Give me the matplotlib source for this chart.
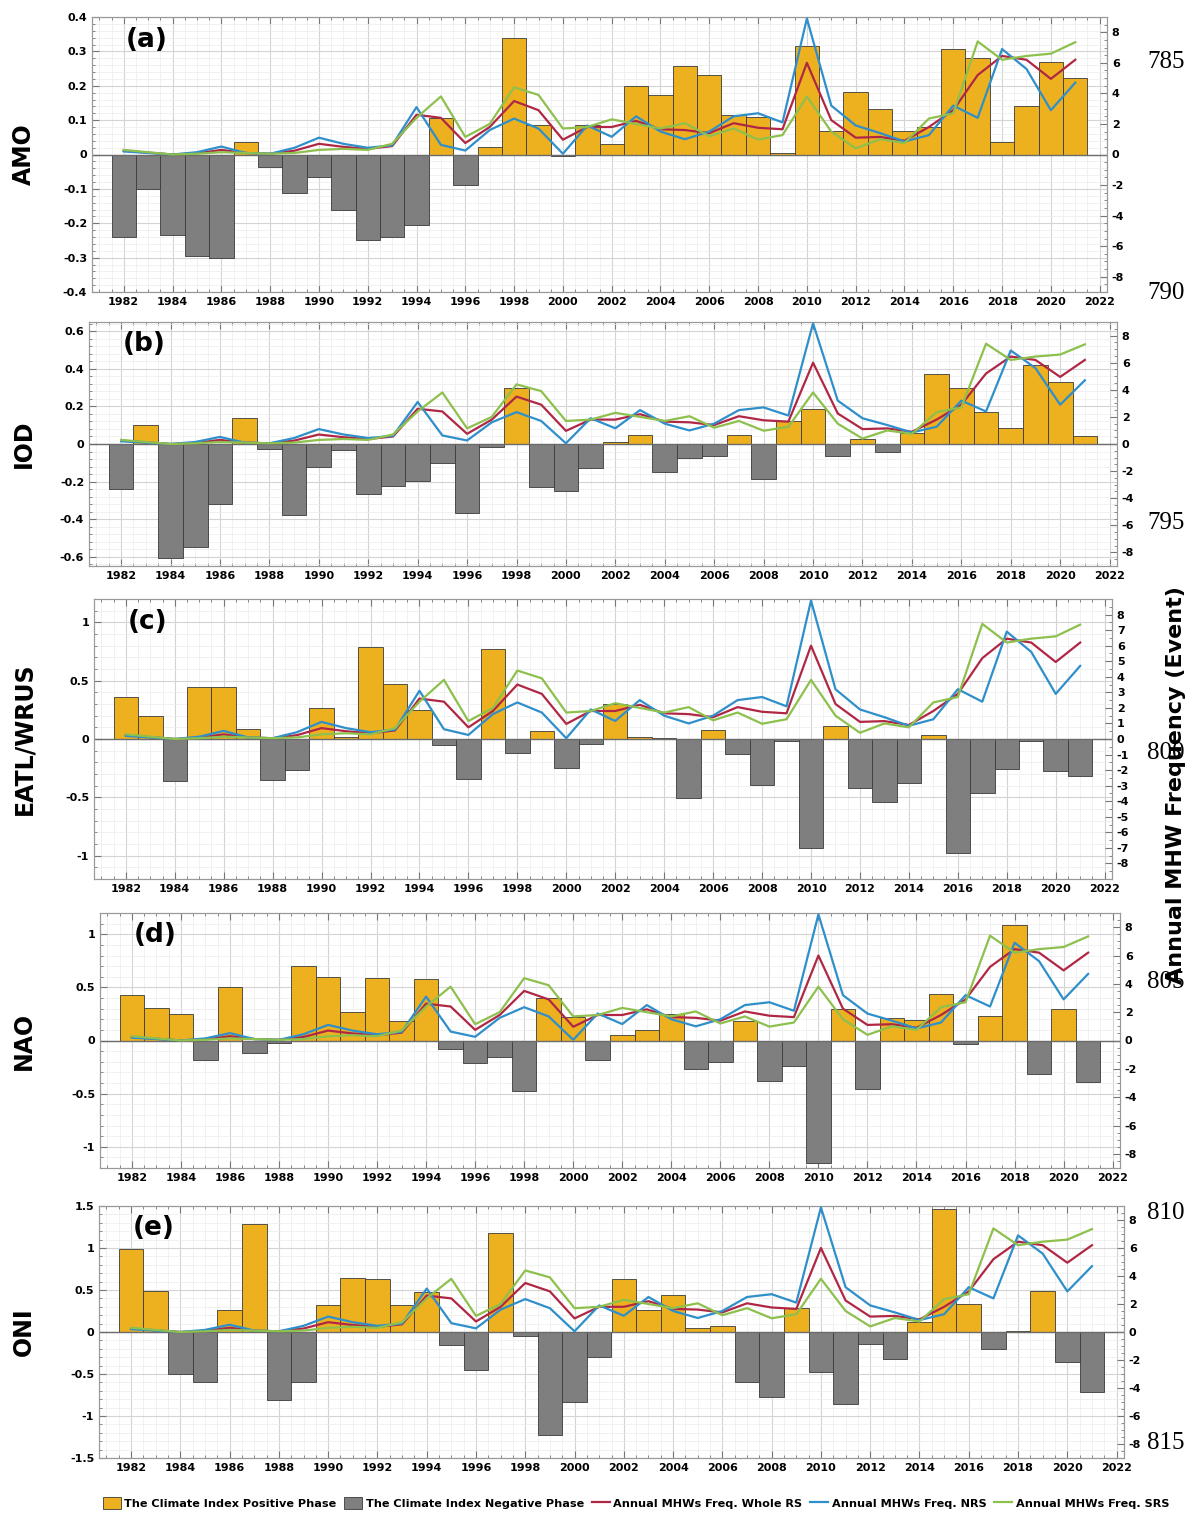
import matplotlib.pyplot as plt
import numpy as np
from matplotlib.ticker import MultipleLocator, AutoMinorLocator, FuncFormatter
from matplotlib.patches import Patch
from matplotlib.lines import Line2D

plt.rcParams['font.family'] = ['DejaVu Sans']
plt.rcParams['font.weight'] = 'bold'
plt.rcParams['axes.unicode_minus'] = False

years = np.arange(1982, 2022)

# climate index values per year (left axis)
amo = [-0.24, -0.10, -0.235, -0.295, -0.30, 0.037, -0.035, -0.112, -0.065, -0.16,
       -0.248, -0.24, -0.205, 0.105, -0.088, 0.022, 0.34, 0.085, -0.003, 0.087,
       0.032, 0.199, 0.173, 0.258, 0.232, 0.115, 0.108, 0.005, 0.317, 0.068,
       0.182, 0.133, 0.068, 0.08, 0.308, 0.282, 0.035, 0.14, 0.269, 0.224]
iod = [-0.238, 0.10, -0.61, -0.55, -0.318, 0.138, -0.027, -0.38, -0.12, -0.032,
       -0.265, -0.226, -0.196, -0.102, -0.37, -0.018, 0.30, -0.231, -0.249, -0.126,
       0.009, 0.046, -0.148, -0.076, -0.062, 0.049, -0.185, 0.124, 0.189, -0.064,
       0.025, -0.041, 0.056, 0.371, 0.30, 0.168, 0.087, 0.42, 0.33, 0.042]
eatl = [0.36, 0.20, -0.363, 0.443, 0.443, 0.086, -0.35, -0.266, 0.27, 0.02,
        0.786, 0.47, 0.245, -0.049, -0.343, 0.77, -0.117, 0.071, -0.25, -0.043,
        0.303, 0.02, 0.01, -0.504, 0.079, -0.127, -0.39, -0.02, -0.934, 0.108,
        -0.416, -0.538, -0.374, 0.037, -0.98, -0.459, -0.255, -0.02, -0.277, -0.32]
nao = [0.43, 0.31, 0.253, -0.18, 0.503, -0.12, -0.02, 0.70, 0.597, 0.266,
       0.588, 0.18, 0.58, -0.078, -0.21, -0.156, -0.475, 0.40, 0.225, -0.179,
       0.053, 0.10, 0.25, -0.267, -0.204, 0.179, -0.38, -0.241, -1.15, 0.298,
       -0.455, 0.213, 0.194, 0.439, -0.03, 0.235, 1.088, -0.317, 0.298, -0.392]
oni = [0.99, 0.486, -0.50, -0.593, 0.26, 1.29, -0.806, -0.593, 0.32, 0.648,
       0.636, 0.32, 0.478, -0.158, -0.455, 1.18, -0.047, -1.225, -0.83, -0.30,
       0.635, 0.257, 0.446, 0.051, 0.071, -0.60, -0.777, 0.284, -0.473, -0.856,
       -0.146, -0.316, 0.118, 1.47, 0.335, -0.197, 0.012, 0.493, -0.363, -0.718]

# annual MHW frequency (right axis, events)
mhw_whole = [0.25, 0.12, 0.0, 0.08, 0.3, 0.1, 0.05, 0.25, 0.7, 0.5,
             0.37, 0.55, 2.6, 2.4, 0.75, 1.8, 3.5, 2.9, 0.97, 1.8,
             1.8, 2.2, 1.65, 1.6, 1.4, 2.05, 1.75, 1.65, 6.0, 2.25,
             1.1, 1.15, 0.9, 1.8, 2.9, 5.2, 6.45, 6.2, 4.95, 6.2]
mhw_nrs = [0.2, 0.1, 0.0, 0.15, 0.52, 0.1, 0.05, 0.44, 1.1, 0.7,
           0.44, 0.6, 3.1, 0.63, 0.26, 1.6, 2.35, 1.7, 0.05, 1.9,
           1.16, 2.5, 1.5, 1.0, 1.5, 2.5, 2.7, 2.1, 8.9, 3.2,
           1.9, 1.4, 0.85, 1.27, 3.2, 2.4, 6.9, 5.6, 2.9, 4.7]
mhw_srs = [0.3, 0.15, 0.0, 0.05, 0.15, 0.1, 0.05, 0.1, 0.3, 0.37,
           0.3, 0.7, 2.4, 3.8, 1.15, 2.0, 4.4, 3.9, 1.7, 1.8,
           2.3, 2.0, 1.7, 2.05, 1.2, 1.7, 0.98, 1.27, 3.8, 1.5,
           0.4, 1.0, 0.75, 2.35, 2.7, 7.4, 6.2, 6.45, 6.6, 7.35]

names = ['AMO', 'IOD', 'EATL/WRUS', 'NAO', 'ONI']
tags = ['(a)', '(b)', '(c)', '(d)', '(e)']
indices = [amo, iod, eatl, nao, oni]
ylims = [0.4, 0.65, 1.2, 1.2, 1.5]
ysteps = [0.1, 0.2, 0.5, 0.5, 0.5]
rsteps = [2, 2, 1, 2, 2]
line_nums = ['785', '790', '795', '800', '805', '810', '815']

orange = '#EDB120'
gray = '#7F7F7F'
c_red = '#B02745'
c_blue = '#2F8FCB'
c_green = '#8DC04D'

W, H = 1191, 1517
fig = plt.figure(figsize=(W / 100, H / 100), dpi=100)

# panel boxes in pixels: left, right, top, bottom
boxes = [(92, 1107, 17, 292), (89, 1117, 322, 566), (94, 1112, 599, 879),
         (100, 1120, 913, 1168), (99, 1124, 1206, 1458)]

fmt = FuncFormatter(lambda v, p: '%g' % (round(v, 3) if abs(v) > 1e-9 else 0))

for i in range(5):
    l, r, t, b = boxes[i]
    ax = fig.add_axes([l / W, 1 - b / H, (r - l) / W, (b - t) / H])
    vals = np.array(indices[i])
    cols = [orange if v > 0 else gray for v in vals]
    ax.bar(years, vals, width=1.0, color=cols, edgecolor='#3a3a3a', linewidth=0.6, zorder=2)
    ax.axhline(0, color='#6b6b6b', lw=1.0, zorder=3)
    ax.set_xlim(1980.7, 2022.3)
    ax.set_ylim(-ylims[i], ylims[i])
    ax.set_xticks(np.arange(1982, 2023, 2))
    ax.xaxis.set_minor_locator(MultipleLocator(0.5))
    ax.yaxis.set_major_locator(MultipleLocator(ysteps[i]))
    ax.yaxis.set_minor_locator(AutoMinorLocator(5))
    ax.yaxis.set_major_formatter(fmt)
    ax.grid(which='major', color='#d4d4d4', lw=0.8)
    ax.grid(which='minor', color='#ececec', lw=0.5)
    ax.set_axisbelow(True)
    ax.tick_params(which='both', direction='in', top=True, labelsize=8, color='#777777')
    ax.tick_params(which='major', length=5)
    ax.tick_params(which='minor', length=2.5)
    for s in ax.spines.values():
        s.set_color('#999999')

    ax2 = ax.twinx()
    ax2.plot(years, mhw_whole, color=c_red, lw=1.6, zorder=4)
    ax2.plot(years, mhw_nrs, color=c_blue, lw=1.6, zorder=4)
    ax2.plot(years, mhw_srs, color=c_green, lw=1.6, zorder=4)
    ax2.set_ylim(-9, 9)
    ax2.set_yticks(np.arange(-8, 9, rsteps[i]))
    ax2.yaxis.set_minor_locator(MultipleLocator(0.5))
    ax2.tick_params(which='both', direction='in', labelsize=8, color='#777777')
    ax2.tick_params(which='major', length=5)
    ax2.tick_params(which='minor', length=2.5)
    for s in ax2.spines.values():
        s.set_color('#999999')

    ax.text(0.033, 0.965, tags[i], transform=ax.transAxes, fontsize=19,
            fontweight='bold', ha='left', va='top', zorder=6)
    fig.text(24 / W, 1 - (t + b) / 2 / H, names[i], rotation=90, fontsize=17,
             fontweight='bold', ha='center', va='center')

fig.text(1176 / W, 1 - 785 / H, 'Annual MHW Frequency (Event)', rotation=90,
         fontsize=16, fontweight='bold', ha='center', va='center')

# manuscript line numbers in the right margin
num_y = [62, 293, 523, 753, 982, 1213, 1443]
for s, yy in zip(line_nums, num_y):
    fig.text(1147 / W, 1 - yy / H, s, family='Liberation Serif', fontweight='normal',
             fontsize=18, ha='left', va='center')

handles = [Patch(facecolor=orange, edgecolor='#3a3a3a', lw=0.6),
           Patch(facecolor=gray, edgecolor='#3a3a3a', lw=0.6),
           Line2D([], [], color=c_red, lw=1.6),
           Line2D([], [], color=c_blue, lw=1.6),
           Line2D([], [], color=c_green, lw=1.6)]
labels = ['The Climate Index Positive Phase', 'The Climate Index Negative Phase',
          'Annual MHWs Freq. Whole RS', 'Annual MHWs Freq. NRS', 'Annual MHWs Freq. SRS']
fig.legend(handles, labels, loc='center', bbox_to_anchor=(636 / W, 1 - 1503 / H), ncol=5,
           frameon=False, prop={'family': 'DejaVu Sans', 'weight': 'bold', 'size': 8.1},
           handlelength=1.6, handleheight=1.2, handletextpad=0.3, columnspacing=0.7)

fig.savefig('out.png', dpi=100)
